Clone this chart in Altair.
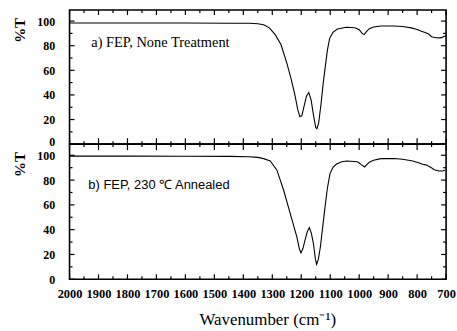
import altair as alt
import pandas as pd

# ---- data ----
wn_a = [2000, 1800, 1600, 1450, 1380, 1350, 1330, 1310, 1290, 1270, 1250, 1235, 1222, 1212,
        1205, 1198, 1190, 1182, 1174, 1166, 1158, 1150, 1146, 1140, 1132, 1124, 1117, 1110,
        1102, 1090, 1075, 1045, 1015, 1000, 990, 983, 975, 965, 950, 925, 880, 850, 820, 800,
        785, 770, 760, 750, 735, 718, 708, 700]
t_a = [98.5, 98.5, 98.4, 98.3, 98.2, 97.8, 97.0, 94.5, 89.0, 81.0, 66.0, 53.0, 40.0, 28.0,
       22.5, 23.0, 31.0, 39.0, 42.0, 36.0, 24.0, 13.5, 12.5, 17.0, 32.0, 50.0, 63.0, 76.0,
       86.0, 91.0, 93.5, 95.0, 94.6, 93.0, 90.0, 89.0, 91.5, 93.8, 95.2, 96.0, 96.0, 95.6, 94.5, 93.2,
       91.8, 90.6, 89.5, 87.3, 86.5, 86.4, 87.5, 88.0]

wn_b = [2000, 1800, 1600, 1450, 1380, 1350, 1330, 1307, 1284, 1261, 1238, 1215, 1206, 1201,
        1194, 1187, 1179, 1172, 1165, 1158, 1151, 1147, 1141, 1134, 1126, 1118, 1110, 1101,
        1090, 1078, 1060, 1044, 1015, 1004, 993, 981, 972, 964, 950, 925, 880, 850, 815, 795,
        781, 770, 758, 748, 741, 725, 712, 704]
t_b = [99.3, 99.3, 99.2, 99.1, 98.8, 98.3, 97.3, 95.5, 88.0, 72.0, 53.0, 34.0, 24.0, 21.2,
       25.0, 31.5, 38.5, 41.7, 37.0, 28.8, 16.0, 12.1, 16.0, 26.0, 42.0, 58.0, 73.0, 85.0,
       90.5, 93.0, 94.8, 95.4, 95.0, 94.6, 92.5, 90.6, 92.8, 94.6, 96.0, 97.3, 97.4, 96.8, 95.4, 94.0,
       92.7, 92.3, 91.0, 89.5, 88.4, 87.3, 87.3, 88.0]

x_major = list(range(2000, 699, -100))
x_minor = list(range(1950, 700, -100))
y_major = [0, 20, 40, 60, 80, 100]
y_minor = [10, 30, 50, 70, 90]

label_a = ["a) FEP, None Treatment"]
label_a_pos = [1925, 82.5]
label_b = ["b) FEP, 230 \u2103 Annealed"]
label_b_pos = [1935, 75.8]

W = 379
H1 = 135
H2 = 136
XDOM = [2000, 700]
YDOM = [0, 109]
SERIF = "Liberation Serif"

xs = alt.Scale(domain=XDOM, nice=False, zero=False)
ys = alt.Scale(domain=YDOM, nice=False)


def yaxis(shift_zero):
    kw = dict(values=y_major, ticks=False, domain=False, grid=False,
              labelFont=SERIF, labelFontWeight="bold", labelFontSize=12, labelColor="black",
              labelPadding=15, title="%T", titleFont=SERIF, titleFontWeight="bold",
              titleFontSize=15, titleColor="black", titleAngle=-90, titleX=-50, titleY=20,
              titleAlign="center", titleBaseline="middle")
    if shift_zero:
        kw["labelOffset"] = alt.ExprRef("datum.value == 0 ? -3 : 0")
    return alt.Axis(**kw)


XAX_BOTTOM = alt.Axis(values=x_major, ticks=False, domain=False, grid=False, format="d",
                      labelFont=SERIF, labelFontWeight="bold", labelFontSize=12.5, labelColor="black",
                      labelPadding=8, labelFlush=False, labelOverlap=False,
                      title="Wavenumber (cm\u207b\u00b9)", titleFont=SERIF, titleFontWeight="normal",
                      titleFontSize=17, titleColor="black", titlePadding=12, titleX=199)


def panel(wn, t, label, pos, font, fsize, H, top_edge, bottom_mode, xax, yax):
    X = lambda f: alt.X(f, scale=xs, axis=xax, title="Wavenumber (cm\u207b\u00b9)")
    Y = lambda f: alt.Y(f, scale=ys, axis=yax, title="%T")
    r = dict(color="black", strokeWidth=1.2)
    d = pd.DataFrame({"v": wn, "w": t})
    layers = [alt.Chart(d).mark_line(color="black", strokeWidth=1.1).encode(
        x=X("v:Q"), y=Y("w:Q"), order=alt.Order("idx:Q")).transform_window(idx="row_number()")]
    dl = pd.DataFrame({"t": label, "v": [pos[0]], "w": [pos[1]]})
    layers.append(alt.Chart(dl).mark_text(align="left", baseline="middle", font=font,
                                          fontSize=fsize, color="black").encode(
        x=X("v:Q"), y=Y("w:Q"), text="t:N"))
    dxm = pd.DataFrame({"v": x_major})
    dxn = pd.DataFrame({"v": x_minor})
    dym = pd.DataFrame({"w": y_major})
    dyn = pd.DataFrame({"w": y_minor})
    layers.append(alt.Chart(dym).mark_rule(**r).encode(y=Y("w:Q"), x=alt.value(0), x2=alt.value(5)))
    layers.append(alt.Chart(dyn).mark_rule(**r).encode(y=Y("w:Q"), x=alt.value(0), x2=alt.value(3)))
    layers.append(alt.Chart(dym).mark_rule(**r).encode(y=Y("w:Q"), x=alt.value(W), x2=alt.value(W - 5)))
    layers.append(alt.Chart(dyn).mark_rule(**r).encode(y=Y("w:Q"), x=alt.value(W), x2=alt.value(W - 3)))
    if top_edge:
        layers.append(alt.Chart(dxm).mark_rule(**r).encode(x=X("v:Q"), y=alt.value(0), y2=alt.value(5)))
        layers.append(alt.Chart(dxn).mark_rule(**r).encode(x=X("v:Q"), y=alt.value(0), y2=alt.value(3)))
    if bottom_mode == "cross":
        layers.append(alt.Chart(dxm).mark_rule(**r).encode(x=X("v:Q"), y=alt.value(H - 6), y2=alt.value(H + 6)))
        layers.append(alt.Chart(dxn).mark_rule(**r).encode(x=X("v:Q"), y=alt.value(H - 3), y2=alt.value(H + 3)))
    else:
        layers.append(alt.Chart(dxm).mark_rule(**r).encode(x=X("v:Q"), y=alt.value(H), y2=alt.value(H - 5)))
        layers.append(alt.Chart(dxn).mark_rule(**r).encode(x=X("v:Q"), y=alt.value(H), y2=alt.value(H - 3)))
    return alt.layer(*layers).properties(width=W, height=H)


top = panel(wn_a, t_a, label_a, label_a_pos, SERIF, 14.5, H1, True, "cross", None, yaxis(True))
bottom = panel(wn_b, t_b, label_b, label_b_pos, "Liberation Sans", 13, H2, False, "in",
               XAX_BOTTOM, yaxis(False))

chart = alt.vconcat(top, bottom, spacing=0, bounds="flush").properties(
    padding={"left": 12, "top": 7, "right": 0, "bottom": 0},
    background="white",
).configure_view(stroke="black", strokeWidth=1.6).configure_concat(spacing=0)

chart.save("out.html", embed_options={"renderer": "svg", "actions": False})
